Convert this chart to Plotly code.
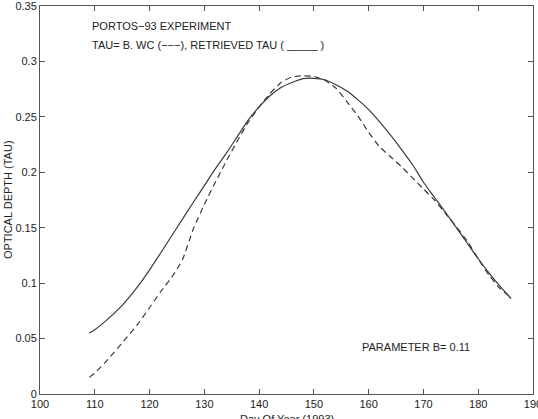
import plotly.graph_objects as go

# Data
days_wc = [109, 110, 112, 115, 118, 120, 122, 124, 126, 128, 130, 132, 134, 136, 138,
           140, 142, 144, 146, 148, 150, 152, 154, 156, 158, 160, 162, 164, 166, 168,
           170, 172, 174, 176, 178, 180, 182, 184, 186]
tau_wc = [0.015, 0.019, 0.029, 0.046, 0.064, 0.078, 0.092, 0.105, 0.121, 0.149, 0.171,
          0.191, 0.210, 0.228, 0.245, 0.259, 0.271, 0.281, 0.286, 0.287, 0.2865, 0.283,
          0.276, 0.264, 0.251, 0.236, 0.223, 0.214, 0.205, 0.195, 0.185, 0.175, 0.163,
          0.151, 0.138, 0.122, 0.107, 0.095, 0.087]

days_ret = [109, 110, 112, 115, 118, 120, 122, 125, 128, 130, 132, 134, 136, 138, 140,
            142, 144, 146, 148, 150, 152, 154, 156, 158, 160, 162, 164, 166, 168, 170,
            172, 174, 176, 178, 180, 182, 184, 186]
tau_ret = [0.055, 0.058, 0.066, 0.080, 0.098, 0.112, 0.127, 0.150, 0.173, 0.188, 0.203,
           0.217, 0.232, 0.247, 0.259, 0.269, 0.2765, 0.281, 0.2845, 0.2848, 0.2835,
           0.279, 0.2735, 0.2655, 0.2565, 0.2455, 0.2335, 0.2205, 0.207, 0.191, 0.1775,
           0.164, 0.150, 0.136, 0.122, 0.109, 0.097, 0.086]

x_ticks = [100, 110, 120, 130, 140, 150, 160, 170, 180, 190]
y_ticks = [0, 0.05, 0.1, 0.15, 0.2, 0.25, 0.3, 0.35]
y_ticktext = ["0", "0.05", "0.1", "0.15", "0.2", "0.25", "0.3", "0.35"]

FONT = "Liberation Sans, Arial, Helvetica, sans-serif"
LC = "#3a3a3a"

fig = go.Figure()
fig.add_trace(go.Scatter(x=days_wc, y=tau_wc, mode="lines", line_shape="spline",
                         line=dict(color=LC, width=1.2, dash="6px,4px", smoothing=0.5),
                         showlegend=False, hoverinfo="skip"))
fig.add_trace(go.Scatter(x=days_ret, y=tau_ret, mode="lines", line_shape="spline",
                         line=dict(color=LC, width=1.2, smoothing=0.6),
                         showlegend=False, hoverinfo="skip"))

axis_common = dict(showgrid=False, zeroline=False, showline=True, linecolor="#555",
                   linewidth=1, mirror="ticks", ticks="inside", ticklen=5,
                   tickcolor="#555", ticklabeloverflow="allow", automargin=False,
                   tickfont=dict(family=FONT, size=11, color="#222"))

fig.update_xaxes(range=[100, 190], tickvals=x_ticks, **axis_common)
fig.update_yaxes(range=[0, 0.35], tickvals=y_ticks, ticktext=y_ticktext, **axis_common)

fig.add_annotation(x=0.101, y=0.949, xref="paper", yref="paper", xanchor="left",
                   yanchor="middle", showarrow=False, text="PORTOS\u221293 EXPERIMENT",
                   font=dict(family=FONT, size=11, color="#222"))
fig.add_annotation(x=0.101, y=0.900, xref="paper", yref="paper", xanchor="left",
                   yanchor="middle", showarrow=False,
                   text="TAU= B. WC (\u2212\u2212\u2212), RETRIEVED TAU ( _____ )",
                   font=dict(family=FONT, size=11, color="#222"))
fig.add_annotation(x=0.650, y=0.12, xref="paper", yref="paper", xanchor="left",
                   yanchor="middle", showarrow=False, text="PARAMETER B= 0.11",
                   font=dict(family=FONT, size=11, color="#222"))
fig.add_annotation(x=0.5, y=0, xref="paper", yref="paper", xanchor="center",
                   yanchor="top", yshift=-17, showarrow=False,
                   text="Day Of Year (1993)",
                   font=dict(family=FONT, size=11, color="#222"))
fig.add_annotation(x=0, y=0.5, xref="paper", yref="paper", xanchor="center",
                   yanchor="middle", xshift=-32, showarrow=False, textangle=-90,
                   text="OPTICAL DEPTH (TAU)",
                   font=dict(family=FONT, size=11, color="#222"))

fig.update_layout(width=538, height=419, margin=dict(l=40, r=5, t=6, b=25, autoexpand=False),
                  paper_bgcolor="white", plot_bgcolor="white",
                  font=dict(family=FONT, size=11, color="#222"))

fig.write_html("out.html")
